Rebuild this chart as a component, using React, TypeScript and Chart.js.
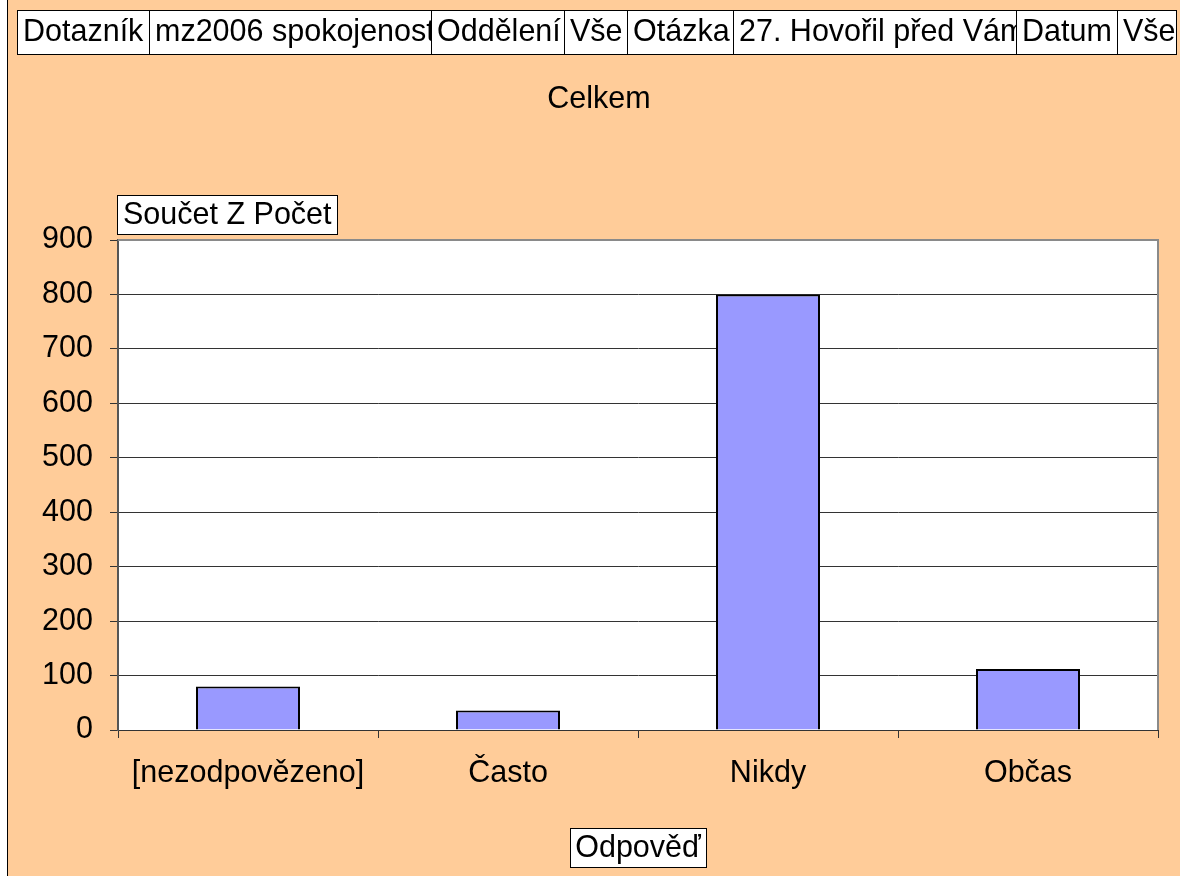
import React, { useEffect, useRef } from "react";
import { Chart, registerables } from "chart.js";

Chart.register(...registerables);

const categories = ["[nezodpovězeno]", "Často", "Nikdy", "Občas"];
const values = [80, 36, 800, 112];
const yTicks = [0, 100, 200, 300, 400, 500, 600, 700, 800, 900];
const headerLabels = ["Dotazník", "mz2006 spokojenost", "Oddělení", "Vše", "Otázka", "27. Hovořil před Vám", "Datum", "Vše"];
const headerEdges = [17, 149, 431, 564, 627, 733, 1016, 1117, 1176];
const chartTitle = "Celkem";
const valueFieldLabel = "Součet Z Počet";
const axisFieldLabel = "Odpověď";

const FONT_SIZE = 30.5;
const FONT = `${FONT_SIZE}px 'Liberation Sans', Arial, sans-serif`;

const decorPlugin = {
  id: "decor",
  beforeDraw(chart: any) {
    const { ctx, width, height, chartArea } = chart;
    ctx.save();
    ctx.fillStyle = "#ffffff";
    ctx.fillRect(0, 0, width, height);
    ctx.fillStyle = "#000000";
    ctx.fillRect(7, 0, 1, height);
    ctx.fillStyle = "#FFCC99";
    ctx.fillRect(8, 0, width - 8, height);
    ctx.fillStyle = "#ffffff";
    ctx.fillRect(chartArea.left, chartArea.top, chartArea.right - chartArea.left, chartArea.bottom - chartArea.top);
    ctx.restore();
  },
  afterDraw(chart: any) {
    const { ctx, chartArea } = chart;
    ctx.save();
    ctx.strokeStyle = "#8a8a8a";
    ctx.lineWidth = 2;
    ctx.beginPath();
    ctx.moveTo(chartArea.left, chartArea.top);
    ctx.lineTo(chartArea.right, chartArea.top);
    ctx.lineTo(chartArea.right, chartArea.bottom);
    ctx.stroke();

    ctx.font = FONT;
    ctx.textBaseline = "middle";
    const top = 10, h = 44;
    for (let i = 0; i < headerLabels.length; i++) {
      const x0 = headerEdges[i], x1 = headerEdges[i + 1];
      ctx.fillStyle = "#ffffff";
      ctx.fillRect(x0, top, x1 - x0, h);
      ctx.save();
      ctx.beginPath();
      ctx.rect(x0, top, x1 - x0, h);
      ctx.clip();
      ctx.fillStyle = "#000";
      ctx.textAlign = "left";
      ctx.fillText(headerLabels[i], x0 + 6, top + h / 2 + 1);
      ctx.restore();
      ctx.strokeStyle = "#000";
      ctx.lineWidth = 1;
      ctx.strokeRect(x0 + 0.5, top + 0.5, x1 - x0, h);
    }

    ctx.fillStyle = "#000";
    ctx.textAlign = "center";
    ctx.fillText(chartTitle, 599, 100);

    const box = (label: string, x0: number, y0: number, x1: number, y1: number, align: string) => {
      ctx.fillStyle = "#ffffff";
      ctx.fillRect(x0, y0, x1 - x0, y1 - y0);
      ctx.strokeStyle = "#000";
      ctx.lineWidth = 1;
      ctx.strokeRect(x0 + 0.5, y0 + 0.5, x1 - x0, y1 - y0);
      ctx.fillStyle = "#000";
      ctx.textAlign = align;
      const tx = align === "center" ? (x0 + x1) / 2 : x0 + 6;
      ctx.fillText(label, tx, (y0 + y1) / 2 + 1);
    };
    box(valueFieldLabel, 117, 195, 337, 234, "left");
    box(axisFieldLabel, 570, 828, 706, 867, "center");
    ctx.restore();
  },
};

export default function App() {
  const ref = useRef<HTMLCanvasElement | null>(null);
  useEffect(() => {
    document.body.style.margin = "0";
    const canvas = ref.current;
    if (!canvas) return;
    Chart.defaults.font.family = "'Liberation Sans', Arial, sans-serif";
    Chart.defaults.font.size = FONT_SIZE;
    Chart.defaults.color = "#000";
    const chart = new Chart(canvas, {
      type: "bar",
      data: {
        labels: categories,
        datasets: [
          {
            data: values,
            backgroundColor: "#9999FF",
            borderColor: "#000000",
            borderWidth: 2,
            categoryPercentage: 1,
            barPercentage: 0.4,
          },
        ],
      },
      options: {
        animation: false,
        responsive: false,
        events: [],
        layout: { padding: { left: 8, top: 240, right: 22, bottom: 0 } },
        plugins: { legend: { display: false }, tooltip: { enabled: false }, title: { display: false } },
        scales: {
          x: {
            type: "category",
            offset: true,
            grid: { display: true, drawOnChartArea: false, offset: true, tickLength: 8, color: "#333", tickColor: "#333" },
            border: { display: true, color: "#333", width: 1 },
            ticks: { padding: 17, maxRotation: 0, autoSkip: false, font: { size: FONT_SIZE } },
            afterFit: (scale: any) => {
              scale.height = 146;
            },
          },
          y: {
            min: 0,
            max: 900,
            afterBuildTicks: (scale: any) => {
              scale.ticks = yTicks.map((v) => ({ value: v }));
            },
            grid: {
              tickLength: 8,
              color: (c: any) => (c.tick && c.tick.value === 900 ? "#8a8a8a" : "#333"),
              tickColor: "#333",
            },
            border: { display: true, color: "#555", width: 2 },
            ticks: { padding: 17, font: { size: FONT_SIZE } },
            afterFit: (scale: any) => {
              scale.width = 110;
            },
          },
        },
      },
      plugins: [decorPlugin],
    } as any);
    return () => chart.destroy();
  }, []);
  return (
    <div style={{ width: 1180, height: 876 }}>
      <canvas ref={ref} width={1180} height={876} style={{ display: "block" }} />
    </div>
  );
}
